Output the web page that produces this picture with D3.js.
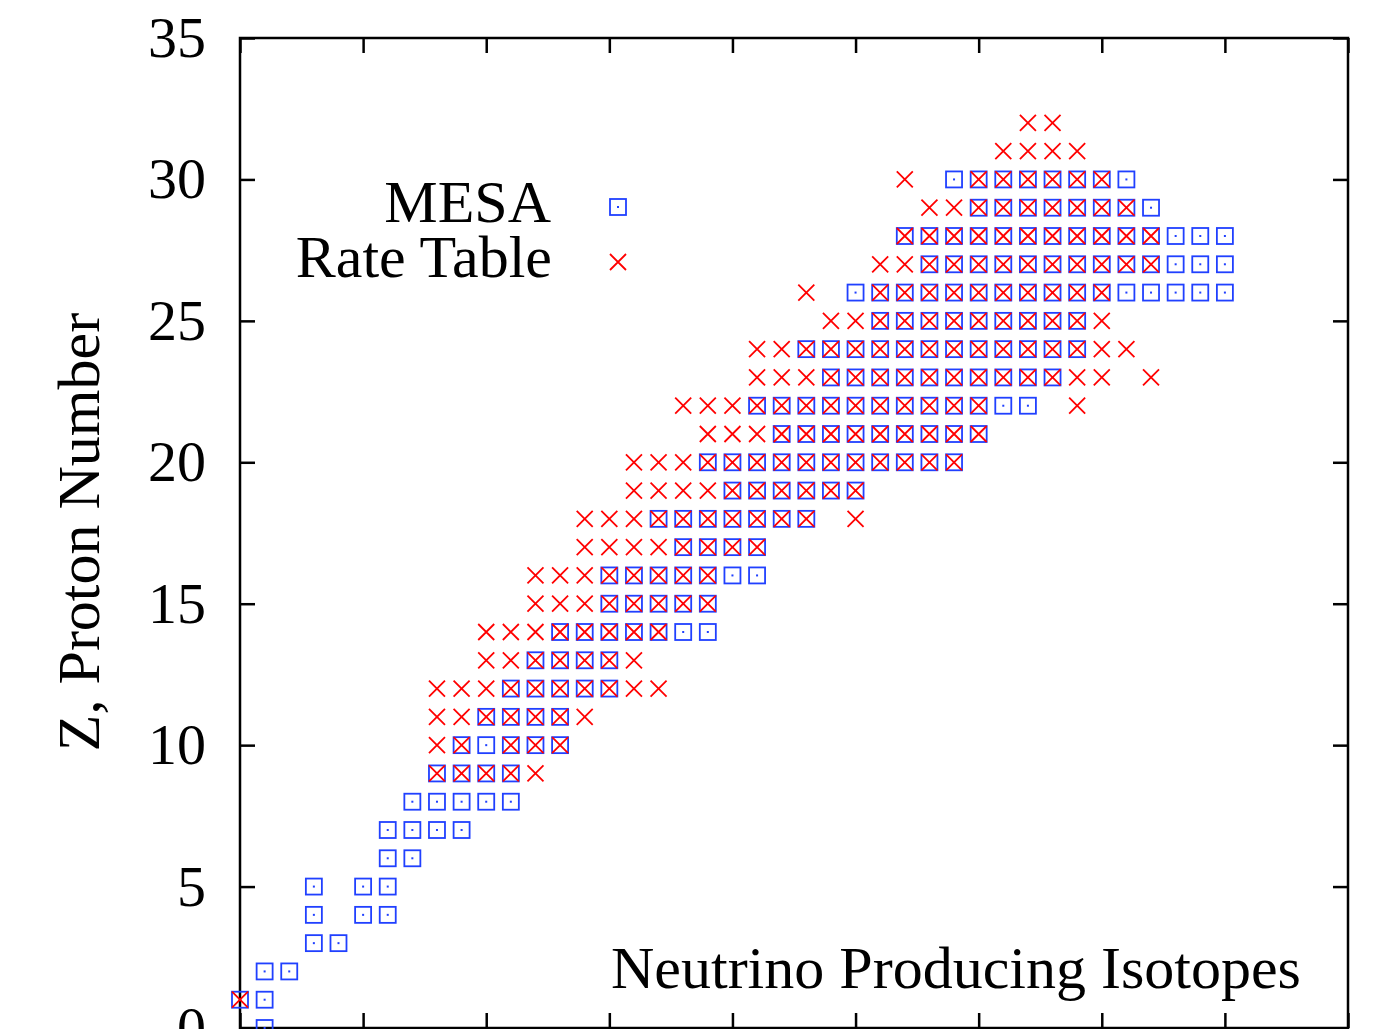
<!DOCTYPE html>
<html>
<head>
<meta charset="utf-8">
<script src="https://cdn.jsdelivr.net/npm/d3@7"></script>
<style>
  body { margin: 0; background: #fff; }
  text { font-family: "Liberation Serif", "DejaVu Serif", serif; fill: #000; }
</style>
</head>
<body>
<svg id="chart"></svg>
<script>
// neutron numbers N found for each proton number Z (index = Z)
let mesaN = [
    [1],
    [0, 1],
    [1, 2],
    [3, 4],
    [3, 5, 6],
    [3, 5, 6],
    [6, 7],
    [6, 7, 8, 9],
    [7, 8, 9, 10, 11],
    [8, 9, 10, 11],
    [9, 10, 11, 12, 13],
    [10, 11, 12, 13],
    [11, 12, 13, 14, 15],
    [12, 13, 14, 15],
    [13, 14, 15, 16, 17, 18, 19],
    [15, 16, 17, 18, 19],
    [15, 16, 17, 18, 19, 20, 21],
    [18, 19, 20, 21],
    [17, 18, 19, 20, 21, 22, 23],
    [20, 21, 22, 23, 24, 25],
    [19, 20, 21, 22, 23, 24, 25, 26, 27, 28, 29],
    [22, 23, 24, 25, 26, 27, 28, 29, 30],
    [21, 22, 23, 24, 25, 26, 27, 28, 29, 30, 31, 32],
    [24, 25, 26, 27, 28, 29, 30, 31, 32, 33],
    [23, 24, 25, 26, 27, 28, 29, 30, 31, 32, 33, 34],
    [26, 27, 28, 29, 30, 31, 32, 33, 34],
    [25, 26, 27, 28, 29, 30, 31, 32, 33, 34, 35, 36, 37, 38, 39, 40],
    [28, 29, 30, 31, 32, 33, 34, 35, 36, 37, 38, 39, 40],
    [27, 28, 29, 30, 31, 32, 33, 34, 35, 36, 37, 38, 39, 40],
    [30, 31, 32, 33, 34, 35, 36, 37],
    [29, 30, 31, 32, 33, 34, 35, 36],
    [],
    []
];

let rateN = [
    [],
    [0],
    [], [], [], [], [], [], [],
    [8, 9, 10, 11, 12],
    [8, 9, 11, 12, 13],
    [8, 9, 10, 11, 12, 13, 14],
    [8, 9, 10, 11, 12, 13, 14, 15, 16, 17],
    [10, 11, 12, 13, 14, 15, 16],
    [10, 11, 12, 13, 14, 15, 16, 17],
    [12, 13, 14, 15, 16, 17, 18, 19],
    [12, 13, 14, 15, 16, 17, 18, 19],
    [14, 15, 16, 17, 18, 19, 20, 21],
    [14, 15, 16, 17, 18, 19, 20, 21, 22, 23, 25],
    [16, 17, 18, 19, 20, 21, 22, 23, 24, 25],
    [16, 17, 18, 19, 20, 21, 22, 23, 24, 25, 26, 27, 28, 29],
    [19, 20, 21, 22, 23, 24, 25, 26, 27, 28, 29, 30],
    [18, 19, 20, 21, 22, 23, 24, 25, 26, 27, 28, 29, 30, 34],
    [21, 22, 23, 24, 25, 26, 27, 28, 29, 30, 31, 32, 33, 34, 35, 37],
    [21, 22, 23, 24, 25, 26, 27, 28, 29, 30, 31, 32, 33, 34, 35, 36],
    [24, 25, 26, 27, 28, 29, 30, 31, 32, 33, 34, 35],
    [23, 26, 27, 28, 29, 30, 31, 32, 33, 34, 35],
    [26, 27, 28, 29, 30, 31, 32, 33, 34, 35, 36, 37],
    [27, 28, 29, 30, 31, 32, 33, 34, 35, 36, 37],
    [28, 29, 30, 31, 32, 33, 34, 35, 36],
    [27, 30, 31, 32, 33, 34, 35],
    [31, 32, 33, 34],
    [32, 33]
];

let xTicks = [0, 5, 10, 15, 20, 25, 30, 35, 40, 45];
let yTicks = [0, 5, 10, 15, 20, 25, 30, 35];
let seriesNames = ["MESA", "Rate Table"];

function createPlot() {
    let w = 1373, h = 1029;
    let left = 240, right = 1348, top = 38, bottom = 1028;
    let blue = "#2040ff", red = "#ff0000";

    let svg = d3.select("#chart")
        .attr("width", w)
        .attr("height", h);

    let x = d3.scaleLinear().domain([0, 45]).range([left, right]);
    let y = d3.scaleLinear().domain([0, 35]).range([bottom, top]);

    let mesaPts = mesaN.flatMap((ns, z) => ns.map(n => ({n: n, z: z})));
    let ratePts = rateN.flatMap((ns, z) => ns.map(n => ({n: n, z: z})));

    // inward ticks on all four sides
    let axL = svg.append("g")
        .attr("transform", `translate(${left},0)`)
        .call(d3.axisLeft(y).tickValues(yTicks).tickSize(-15).tickPadding(34));
    svg.append("g")
        .attr("transform", `translate(${right},0)`)
        .call(d3.axisRight(y).tickValues(yTicks).tickSize(-15).tickFormat(""));
    svg.append("g")
        .attr("transform", `translate(0,${top})`)
        .call(d3.axisTop(x).tickValues(xTicks).tickSize(-15).tickFormat(""));
    svg.append("g")
        .attr("transform", `translate(0,${bottom})`)
        .call(d3.axisBottom(x).tickValues(xTicks).tickSize(-15).tickFormat(""));

    svg.selectAll(".domain").remove();
    svg.selectAll(".tick line").attr("stroke", "#000").attr("stroke-width", 2.5);
    axL.selectAll("text")
        .attr("font-size", 58)
        .attr("font-family", "'Liberation Serif', serif")
        .attr("fill", "#000");

    svg.append("rect")
        .attr("x", left).attr("y", top)
        .attr("width", right - left).attr("height", bottom - top)
        .attr("fill", "none")
        .attr("stroke", "#000")
        .attr("stroke-width", 2.5);

    // MESA: square with a dot in the middle
    let sq = svg.append("g").selectAll("g")
        .data(mesaPts)
        .enter().append("g")
        .attr("transform", d => `translate(${x(d.n)},${y(d.z)})`);
    sq.append("rect")
        .attr("x", -8).attr("y", -8)
        .attr("width", 16).attr("height", 16)
        .attr("fill", "none")
        .attr("stroke", blue)
        .attr("stroke-width", 1.8);
    sq.append("rect")
        .attr("x", -1).attr("y", -1)
        .attr("width", 2).attr("height", 2)
        .attr("fill", blue);

    // Rate table: cross
    let cross = "M-8,-8L8,8M-8,8L8,-8";
    svg.append("g").selectAll("path")
        .data(ratePts)
        .enter().append("path")
        .attr("d", cross)
        .attr("transform", d => `translate(${x(d.n)},${y(d.z)})`)
        .attr("fill", "none")
        .attr("stroke", red)
        .attr("stroke-width", 1.8);

    // legend
    let leg = svg.append("g");
    leg.append("text")
        .attr("x", 551).attr("y", 222)
        .attr("text-anchor", "end")
        .attr("font-size", 60)
        .text(seriesNames[0]);
    leg.append("text")
        .attr("x", 552).attr("y", 277)
        .attr("text-anchor", "end")
        .attr("font-size", 60)
        .text(seriesNames[1]);
    let lsq = leg.append("g").attr("transform", "translate(618,207)");
    lsq.append("rect")
        .attr("x", -8).attr("y", -8)
        .attr("width", 16).attr("height", 16)
        .attr("fill", "none")
        .attr("stroke", blue)
        .attr("stroke-width", 1.8);
    lsq.append("rect")
        .attr("x", -1).attr("y", -1)
        .attr("width", 2).attr("height", 2)
        .attr("fill", blue);
    leg.append("path")
        .attr("d", cross)
        .attr("transform", "translate(618,262)")
        .attr("fill", "none")
        .attr("stroke", red)
        .attr("stroke-width", 1.8);

    // labels
    svg.append("text")
        .attr("transform", "translate(99,532) rotate(-90)")
        .attr("text-anchor", "middle")
        .attr("font-size", 60)
        .text("Z, Proton Number");

    svg.append("text")
        .attr("x", 611).attr("y", 988)
        .attr("font-size", 60)
        .text("Neutrino Producing Isotopes");
}

window.onload = function() {
    createPlot();
};
</script>
</body>
</html>
